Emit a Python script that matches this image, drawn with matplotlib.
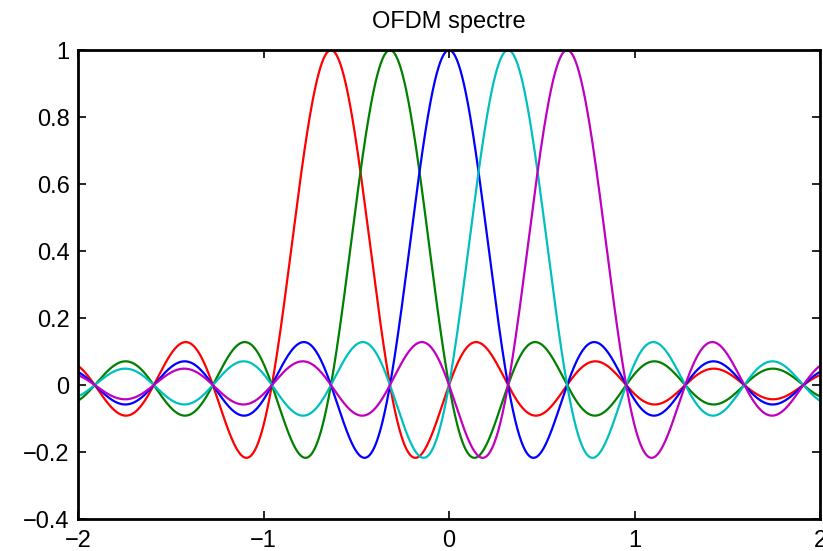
import numpy as np
import matplotlib
matplotlib.use("Agg")
from matplotlib import pyplot as plt

# OFDM subcarriers: sinc spectra, carrier spacing 1/pi
spacing = 1.0 / np.pi
carrier_index = [-2, -1, 0, 1, 2]
carrier_colors = ["#ff0000", "#008000", "#0000ff", "#00bfbf", "#bf00bf"]
xticks = [-2, -1, 0, 1, 2]
yticks = [-0.4, -0.2, 0, 0.2, 0.4, 0.6, 0.8, 1]

plt.rcParams["font.family"] = ["Liberation Sans", "DejaVu Sans"]

fig = plt.figure(figsize=(8.23, 5.51), dpi=100)
ax = fig.add_axes([0.0948, 0.058, 0.9016, 0.851])

f = np.linspace(-2, 2, 2001)
for k, col in zip(carrier_index, carrier_colors):
    ax.plot(f, np.sinc((f - k * spacing) / spacing), color=col, lw=1.6)

ax.set_xlim(-2, 2)
ax.set_ylim(-0.4, 1)
ax.set_xticks(xticks)
ax.set_xticklabels([str(t).replace("-", "\u2212") for t in xticks])
ax.set_yticks(yticks)
ax.set_yticklabels([("%g" % t).replace("-", "\u2212") for t in yticks])
ax.tick_params(direction="in", top=True, right=True, length=6, width=1.2,
               labelsize=17)
ax.tick_params(axis="x", pad=8)
ax.tick_params(axis="y", pad=6)
for s in ax.spines.values():
    s.set_linewidth(2)
ax.set_title("OFDM spectre", fontsize=17, pad=16)

fig.savefig("out.png", dpi=100)
